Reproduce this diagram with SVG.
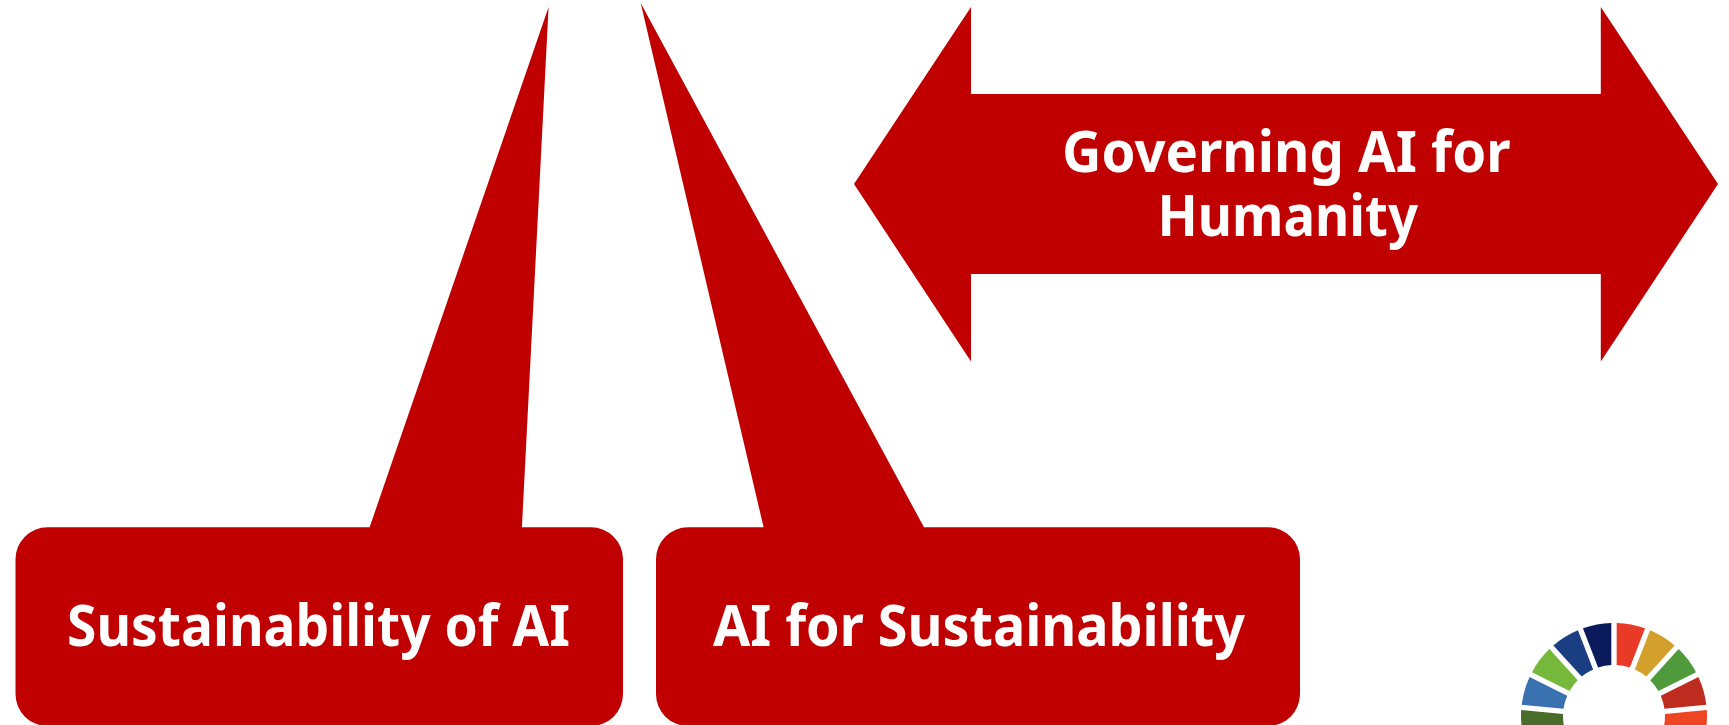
<svg xmlns="http://www.w3.org/2000/svg" xmlns:xlink="http://www.w3.org/1999/xlink" width="1729" height="725" viewBox="0 0 1729 725">
<style>
.shape{fill:#c00000}
.label{font-family:"Noto Sans","Open Sans","Liberation Sans",sans-serif;font-weight:700;font-size:57px;fill:#fff}
</style>
<defs><path id="seg" d="M2.69 -92.96A93 93 0 0 1 31.07 -87.65L15.91 -48.45A51 51 0 0 0 2.67 -50.93Z"/></defs>
<rect width="1729" height="725" fill="#fff"/>
<g id="sustainability-of-ai">
<path class="shape" d="M47.5 527.3H369.6L548.6 7L521.9 527.3H591A32 32 0 0 1 623 559.3V694A32 32 0 0 1 591 726H47.5A32 32 0 0 1 15.5 694V559.3A32 32 0 0 1 47.5 527.3Z"/>
<text class="label" x="67" y="646" textLength="503" lengthAdjust="spacingAndGlyphs">Sustainability of AI</text>
</g>
<g id="ai-for-sustainability">
<path class="shape" d="M688 527.3H763.6L640.7 3L924 527.3H1268A32 32 0 0 1 1300 559.3V694A32 32 0 0 1 1268 726H688A32 32 0 0 1 656 694V559.3A32 32 0 0 1 688 527.3Z"/>
<text class="label" x="713" y="646" textLength="532" lengthAdjust="spacingAndGlyphs">AI for Sustainability</text>
</g>
<g id="governing-ai-for-humanity">
<path class="shape" d="M854 184L971 7V94H1600.8V7L1718 184L1600.8 361.5V274H971V361.5Z"/>
<text class="label" x="1062" y="171.7" textLength="448.6" lengthAdjust="spacingAndGlyphs">Governing AI for</text>
<text class="label" x="1157.5" y="235.5" textLength="260.5" lengthAdjust="spacingAndGlyphs">Humanity</text>
</g>
<g id="sdg-wheel" transform="translate(1614 716)">
<use xlink:href="#seg" href="#seg" fill="#e83a26" transform="rotate(0)"/>
<use xlink:href="#seg" href="#seg" fill="#d3a02c" transform="rotate(21.18)"/>
<use xlink:href="#seg" href="#seg" fill="#4f9a3a" transform="rotate(42.35)"/>
<use xlink:href="#seg" href="#seg" fill="#be2c20" transform="rotate(63.53)"/>
<use xlink:href="#seg" href="#seg" fill="#ee4523" transform="rotate(84.71)"/>
<use xlink:href="#seg" href="#seg" fill="#4a6c2a" transform="rotate(254.12)"/>
<use xlink:href="#seg" href="#seg" fill="#3a71b0" transform="rotate(275.29)"/>
<use xlink:href="#seg" href="#seg" fill="#76b83a" transform="rotate(296.47)"/>
<use xlink:href="#seg" href="#seg" fill="#1b3d82" transform="rotate(317.65)"/>
<use xlink:href="#seg" href="#seg" fill="#0a1a5c" transform="rotate(338.82)"/>
</g>
</svg>
